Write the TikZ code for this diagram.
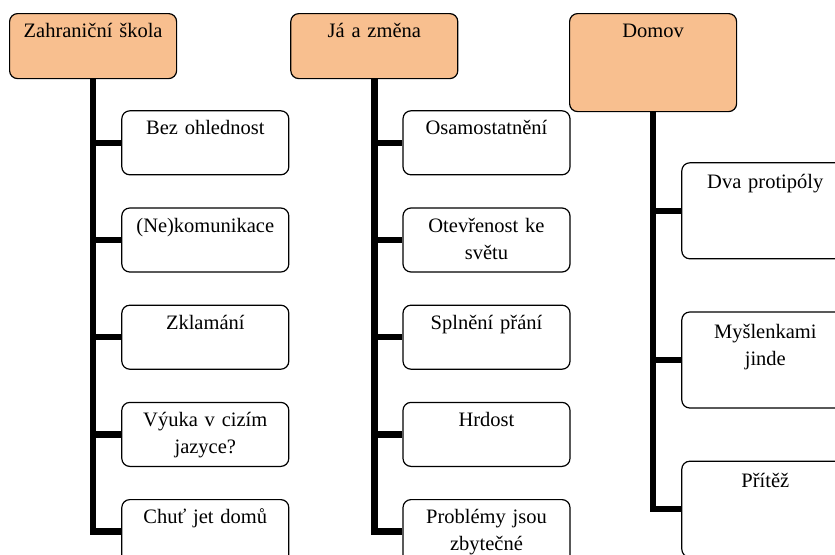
\documentclass[tikz,border=0pt]{standalone}
\usepackage{fontspec}
\setmainfont{Liberation Serif}
\usepackage{tikz}
\definecolor{headpeach}{RGB}{248, 191, 143}
\usetikzlibrary{positioning}

\begin{document}
\begin{tikzpicture}[
    x=1pt, y=-1pt,
    node distance=32pt,
    head/.style={rectangle, draw=black, fill=headpeach, line width=1.2pt,
                text width=160pt, inner xsep=3.5pt, inner ysep=0pt, align=center,
                rounded corners=8pt, font=\fontsize{20.5}{27}\selectfont,
                text height=24pt, text depth=41pt},
    sub/.style={head, fill=white, text height=24pt, text depth=40pt},
    tallsub/.style={sub, text height=26pt, text depth=70pt},
    trunk/.style={line width=6.5pt, black}
]
    \useasboundingbox (0,0) rectangle (835,554);

    % column headers
    \node[head, anchor=north west] (skola) at (9,13) {Zahraniční škola};
    \node[head, right=113pt of skola] (zmena) {Já a změna};
    \node[head, anchor=north west, text depth=74pt] (domov) at (569,13) {Domov};

    % Zahranicni skola
    \node[sub, below right=31pt and -56pt of skola] (skola1) {Bez ohlednost};
    \node[sub, below=of skola1] (skola2) {(Ne)komunikace};
    \node[sub, below=of skola2] (skola3) {Zklamání};
    \node[sub, below=of skola3] (skola4) {Výuka v cizím\\jazyce?};
    \node[sub, below=of skola4] (skola5) {Chuť jet domů};

    % Ja a zmena
    \node[sub, below right=31pt and -56pt of zmena] (zmena1) {Osamostatnění};
    \node[sub, below=of zmena1] (zmena2) {Otevřenost ke\\světu};
    \node[sub, below=of zmena2] (zmena3) {Splnění přání};
    \node[sub, below=of zmena3] (zmena4) {Hrdost};
    \node[sub, below=of zmena4] (zmena5) {Problémy jsou\\zbytečné};

    % Domov
    \node[tallsub, below right=50pt and -56pt of domov] (domov1) {Dva protipóly};
    \node[tallsub, below=52pt of domov1] (domov2) {Myšlenkami\\jinde};
    \node[tallsub, below=52pt of domov2] (domov3) {Přítěž};

    \draw[trunk] (skola.south) |- (skola5.west)
        (skola.south |- skola1.west) -- (skola1.west)
        (skola.south |- skola2.west) -- (skola2.west)
        (skola.south |- skola3.west) -- (skola3.west)
        (skola.south |- skola4.west) -- (skola4.west);
    \draw[trunk] (zmena.south) |- (zmena5.west)
        (zmena.south |- zmena1.west) -- (zmena1.west)
        (zmena.south |- zmena2.west) -- (zmena2.west)
        (zmena.south |- zmena3.west) -- (zmena3.west)
        (zmena.south |- zmena4.west) -- (zmena4.west);
    \draw[trunk] (domov.south) |- (domov3.west)
        (domov.south |- domov1.west) -- (domov1.west)
        (domov.south |- domov2.west) -- (domov2.west);
\end{tikzpicture}
\end{document}
